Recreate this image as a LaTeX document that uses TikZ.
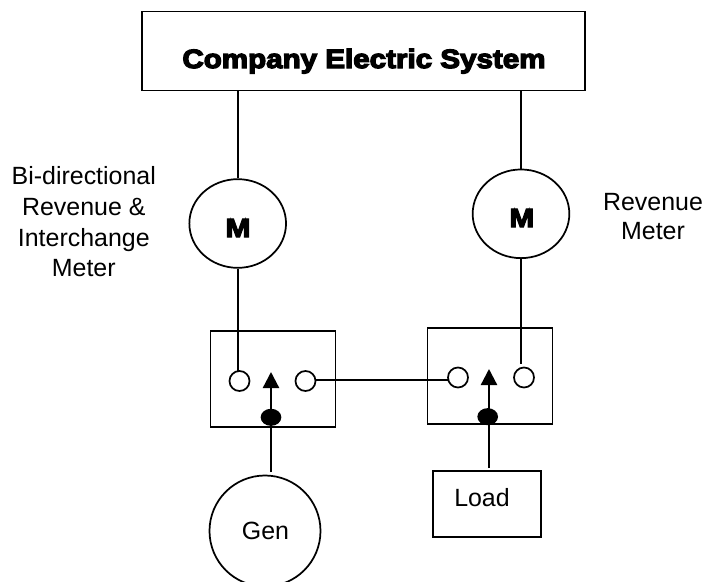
\documentclass[tikz,border=0pt]{standalone}
\usepackage{fontspec}
\setmainfont{Liberation Sans}
\newfontfamily\blackfont[FakeBold=5,FakeStretch=1.12]{Liberation Sans Bold}
\usetikzlibrary{shapes.geometric,arrows.meta}
\tikzset{
  x=0.75pt,y=-0.75pt,
  line/.style={draw=black,line width=1.3pt},
  heavy/.style={draw=black,line width=1.7pt},
  lbl/.style={font=\fontsize{18.7}{23}\selectfont,align=center,inner sep=0pt},
  lblb/.style={font=\fontsize{18.7}{22}\selectfont,align=center,inner sep=0pt},
  blk/.style={font=\blackfont\fontsize{19.8}{24}\selectfont,inner sep=0pt},
  term/.style={circle,draw=black,line width=1.3pt,fill=white,minimum size=15pt,inner sep=0pt},
  dot/.style={ellipse,fill=black,minimum width=15.5pt,minimum height=12.8pt,inner sep=0pt},
  meter/.style={ellipse,draw=black,line width=1.3pt,fill=white,inner sep=0pt,minimum width=72.5pt,minimum height=66.5pt},
  swbox/.style={rectangle,line,minimum width=93.75pt,minimum height=72pt,inner sep=0pt},
  tip/.style={-{Triangle[length=12pt,width=12pt]}},
}
\begin{document}
\begin{tikzpicture}
\useasboundingbox (0,0) rectangle (708,582);
\node[line,rectangle,minimum width=331.9pt,minimum height=59.2pt,inner sep=0pt] (sys) at (363.5,51) {};
\node[blk,anchor=base] (title) at (364,68) {Company Electric System};
\node[meter] (m1) at (237.7,223.5) {};
\node[meter] (m2) at (521,213.8) {};
\node[blk] (mt1) at (238,228) {M};
\node[blk] (mt2) at (521.8,218) {M};
\node[lbl] (l1) at (83.8,222) {Bi-directional\\Revenue \&\\Interchange\\Meter};
\node[lblb] (l2) at (653,216.6) {Revenue\\Meter};
\node[swbox] (sw1) at (273,379) {};
\node[swbox] (sw2) at (490,376) {};
\node[term] (a1) at (239.5,381) {};
\node[term] (a2) at (305.5,381) {};
\node[term] (b1) at (458,377.5) {};
\node[term] (b2) at (524,377.5) {};
\coordinate (tip1) at (271,372);
\coordinate (tip2) at (489,369);
\node[dot] (d1) at (271,417.3) {};
\node[dot] (d2) at (487.7,416.7) {};
\node[circle,line,inner sep=0pt,minimum size=83.25pt] (gen) at (265,531) {};
\node[lbl] (gent) at (265.5,531) {Gen};
\node[line,rectangle,minimum width=81pt,minimum height=49.5pt,inner sep=0pt] (load) at (487,504) {};
\node[lbl] (loadt) at (482,498) {Load};
\coordinate (s1) at (237.7,90);
\coordinate (s2) at (521,90);
\coordinate (g1) at (271,472);
\coordinate (l0) at (489,468);
\coordinate (b2t) at (521,364);
\coordinate (a1t) at (237.7,372);
\coordinate (h1) at (316,380.3);
\coordinate (h2) at (448,380.3);
\draw[line] (s1) -- (m1.north);
\draw[line] (s2) -- (m2.north);
\draw[line] (m1.south) -- (a1t);
\draw[line] (m2.south) -- (b2t);
\draw[line] (h1) -- (h2);
\draw[heavy,tip] (g1) -- (tip1);
\draw[heavy,tip] (l0) -- (tip2);
\end{tikzpicture}
\end{document}
